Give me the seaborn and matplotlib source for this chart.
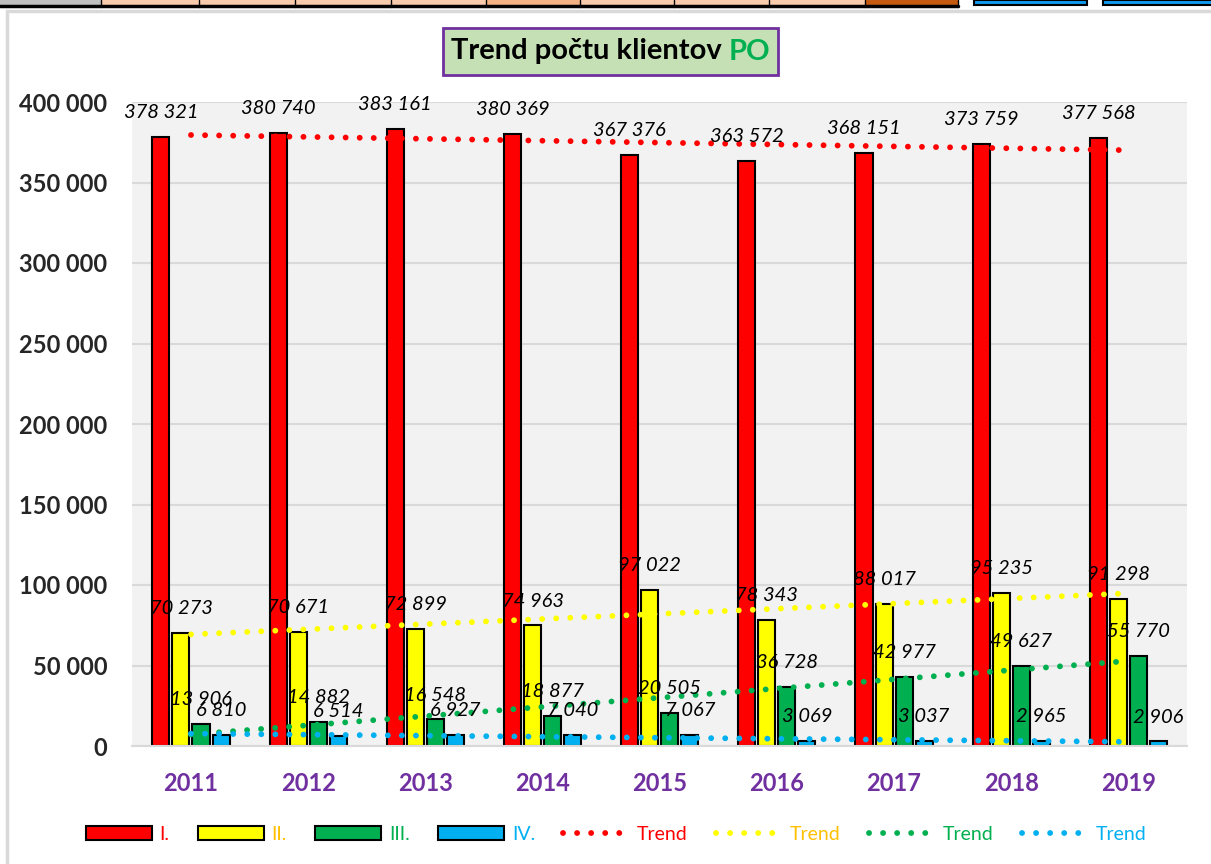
import numpy as np
import pandas as pd
import matplotlib
matplotlib.use("Agg")
import matplotlib.pyplot as plt
import seaborn as sns
from matplotlib.patches import Rectangle, Patch
from matplotlib.lines import Line2D
from matplotlib.ticker import FuncFormatter

# data
years = ["2011", "2012", "2013", "2014", "2015", "2016", "2017", "2018", "2019"]
series_names = ["I.", "II.", "III.", "IV."]
vals_i = [378321, 380740, 383161, 380369, 367376, 363572, 368151, 373759, 377568]
vals_ii = [70273, 70671, 72899, 74963, 97022, 78343, 88017, 95235, 91298]
vals_iii = [13906, 14882, 16548, 18877, 20505, 36728, 42977, 49627, 55770]
vals_iv = [6810, 6514, 6927, 7040, 7067, 3069, 3037, 2965, 2906]

bar_colors = ["#FF0000", "#FFFF00", "#00B050", "#00B0F0"]
text_colors = ["#FF0000", "#FFC000", "#00B050", "#00B0F0"]

W, H = 1211, 864

def fx(px):
    return px / W

def fy(py):
    # pixel from top -> figure fraction from bottom
    return 1 - py / H

df = pd.DataFrame({
    "year": np.repeat(years, 4),
    "cat": series_names * len(years),
    "value": np.array([vals_i, vals_ii, vals_iii, vals_iv]).T.ravel(),
})

sns.set_theme(style="white")
plt.rcParams["font.family"] = ["Lato", "DejaVu Sans"]

fig = plt.figure(figsize=(W / 100, H / 100), dpi=100)
fig.patch.set_facecolor("white")

# spreadsheet strip above the chart
strip = [(0, 101, "#BFBFBF"), (101, 199, "#F8CBAD"), (199, 295, "#F8CBAD"),
         (295, 391, "#F8CBAD"), (391, 486, "#F8CBAD"), (486, 580, "#F4B183"),
         (580, 674, "#F8CBAD"), (674, 769, "#F8CBAD"), (769, 865, "#F8CBAD"),
         (865, 958, "#C55A11")]
for x0, x1, c in strip:
    fig.add_artist(Rectangle((fx(x0), fy(6)), fx(x1 - x0), 6 / H, transform=fig.transFigure,
                             facecolor=c, edgecolor="none"))
    fig.add_artist(Line2D([fx(x1), fx(x1)], [fy(7), fy(0)], transform=fig.transFigure,
                          color="black", lw=1))
fig.add_artist(Line2D([0, fx(958)], [fy(6), fy(6)], transform=fig.transFigure, color="black", lw=2.5))
for x0, x1 in [(974, 1087), (1103, 1215)]:
    fig.add_artist(Rectangle((fx(x0), fy(5)), fx(x1 - x0), 5 / H, transform=fig.transFigure,
                             facecolor="#0F9BF0", edgecolor="black", lw=1.5))

# chart frame
fig.add_artist(Rectangle((fx(7), -0.05), 1.1, fy(11) + 0.05, transform=fig.transFigure,
                         facecolor="none", edgecolor="#D9D9D9", lw=2.5))

ax = fig.add_axes([fx(132.4), fy(746), fx(1054.6), 644 / H])
ax.set_facecolor("#F2F2F2")

sns.barplot(data=df, x="year", y="value", hue="cat", hue_order=series_names,
            palette=bar_colors, width=0.684, gap=0.15, edgecolor="black",
            linewidth=1.5, saturation=1, legend=False, ax=ax)

# data labels
for cont in ax.containers:
    for bar in cont:
        v = bar.get_height()
        ax.annotate(f"{int(round(v)):,}".replace(",", " "),
                    (bar.get_x() + bar.get_width() / 2, v),
                    xytext=(0, 17.5), textcoords="offset points",
                    ha="center", va="center", fontsize=14.5, fontstyle="italic",
                    color="black", zorder=6)

# linear trend lines
xs = np.arange(len(years))
for vals, c in zip([vals_i, vals_ii, vals_iii, vals_iv], bar_colors):
    k, q = np.polyfit(xs, vals, 1)
    ax.plot([0, len(years) - 1], [q, q + k * (len(years) - 1)], color=c, lw=4.2,
            linestyle=(0, (0.01, 2.4)), dash_capstyle="round", zorder=5)

ax.set_xlim(-0.5, len(years) - 0.5)
ax.set_ylim(0, 400000)
ax.set_yticks(np.arange(0, 400001, 50000))
ax.yaxis.set_major_formatter(FuncFormatter(lambda v, p: f"{int(v):,}".replace(",", " ")))
ax.yaxis.grid(True, color="#D9D9D9", lw=1.5)
ax.set_axisbelow(True)
ax.set_xlabel("")
ax.set_ylabel("")
for s in ["top", "right", "left"]:
    ax.spines[s].set_visible(False)
ax.spines["bottom"].set_color("#D9D9D9")
ax.spines["bottom"].set_linewidth(1.5)
ax.tick_params(axis="y", length=0, pad=18, labelsize=17)
ax.tick_params(axis="x", length=0, pad=19, labelsize=17, labelcolor="#7030A0")
for t in ax.get_yticklabels() + ax.get_xticklabels():
    t.set_fontweight("bold")

# title box
fig.add_artist(Rectangle((fx(443), fy(75)), fx(335), 47 / H, transform=fig.transFigure,
                         facecolor="#C5E0B4", edgecolor="#7030A0", lw=2))
t1 = fig.text(0, fy(51.5), "Trend počtu klientov ", fontsize=21, fontweight="bold",
              color="black", va="center", ha="left")
t2 = fig.text(0, fy(51.5), "PO", fontsize=21, fontweight="bold",
              color="#00B050", va="center", ha="left")
fig.canvas.draw()
r = fig.canvas.get_renderer()
w1 = t1.get_window_extent(r).width
w2 = t2.get_window_extent(r).width
start = 610.5 - (w1 + w2) / 2
t1.set_x(fx(start))
t2.set_x(fx(start + w1))

# legend
handles = [Patch(facecolor=c, edgecolor="black", lw=1.5) for c in bar_colors]
handles += [Line2D([0], [0], color=c, lw=4.2, linestyle=(0, (0.01, 2.4)),
                   dash_capstyle="round") for c in bar_colors]
labels = series_names + ["Trend"] * 4
fig.legend(handles, labels, loc="center", bbox_to_anchor=(fx(616), fy(834)), ncol=8,
           frameon=False, fontsize=14, labelcolor=text_colors + text_colors,
           handlelength=3.4, handleheight=0.75, handletextpad=0.4, columnspacing=1.45)

fig.savefig("out.png", dpi=100)
